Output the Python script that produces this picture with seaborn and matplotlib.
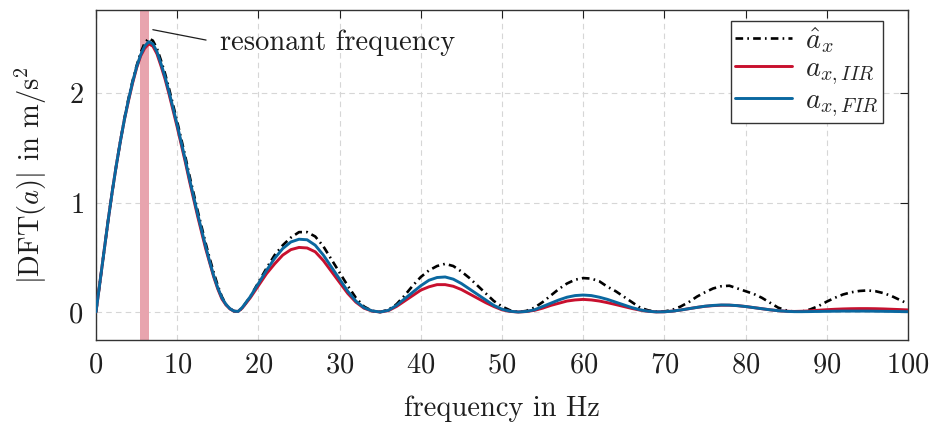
import numpy as np
import pandas as pd
import matplotlib
matplotlib.use("Agg")
import matplotlib.pyplot as plt
import seaborn as sns

# ---------------- data ----------------
freq_main = [0, 0.5, 1, 1.5, 2, 2.5, 3, 3.5, 4, 4.5, 5, 5.5, 6, 6.5, 7, 7.5, 8, 8.5,
             9, 9.5, 10, 10.5, 11, 11.5, 12, 12.5, 13, 13.5, 14, 14.5, 15, 15.5,
             16, 16.5, 17, 17.5, 18]
freq_rest = list(range(19, 101))

ahat_main = [0.00, 0.28, 0.56, 0.84, 1.10, 1.34, 1.56, 1.77, 1.95, 2.11, 2.25, 2.37,
             2.46, 2.50, 2.48, 2.41, 2.30, 2.18, 2.04, 1.89, 1.74, 1.58, 1.42, 1.25,
             1.09, 0.93, 0.78, 0.63, 0.49, 0.36, 0.24, 0.14, 0.07, 0.03, 0.008, 0.004, 0.035]
iir_main = [0.00, 0.28, 0.56, 0.84, 1.10, 1.34, 1.56, 1.76, 1.93, 2.09, 2.23, 2.34,
            2.41, 2.45, 2.43, 2.36, 2.25, 2.13, 1.99, 1.84, 1.69, 1.53, 1.37, 1.20,
            1.04, 0.88, 0.73, 0.58, 0.45, 0.32, 0.21, 0.12, 0.065, 0.028, 0.007, 0.005, 0.035]
fir_main = [0.00, 0.28, 0.56, 0.84, 1.10, 1.34, 1.56, 1.76, 1.94, 2.10, 2.24, 2.35,
            2.43, 2.47, 2.45, 2.38, 2.27, 2.15, 2.01, 1.86, 1.71, 1.55, 1.39, 1.22,
            1.06, 0.90, 0.75, 0.60, 0.46, 0.33, 0.22, 0.13, 0.07, 0.03, 0.008, 0.005, 0.04]

ahat_rest = [0.14, 0.27, 0.40, 0.52, 0.61, 0.68, 0.73, 0.73, 0.69, 0.60, 0.48, 0.36,  # 19-30
             0.24, 0.13, 0.05, 0.01, 0.00, 0.02, 0.07, 0.15, 0.24, 0.32, 0.38, 0.42,  # 31-42
             0.44, 0.42, 0.37, 0.31, 0.24, 0.17, 0.10, 0.05, 0.015, 0.00, 0.01, 0.04,  # 43-54
             0.09, 0.15, 0.21, 0.26, 0.295, 0.31, 0.305, 0.28, 0.23, 0.19, 0.14, 0.09,  # 55-66
             0.04, 0.015, 0.003, 0.005, 0.02, 0.05, 0.09, 0.14, 0.18, 0.215, 0.235, 0.24,  # 67-78
             0.215, 0.19, 0.165, 0.13, 0.085, 0.04, 0.015, 0.003, 0.005, 0.025, 0.055, 0.095,  # 79-90
             0.13, 0.16, 0.18, 0.192, 0.197, 0.19, 0.172, 0.145, 0.11, 0.075]  # 91-100
iir_rest = [0.13, 0.24, 0.35, 0.44, 0.52, 0.57, 0.59, 0.585, 0.55, 0.47, 0.37, 0.27,
            0.17, 0.09, 0.035, 0.008, 0.00, 0.012, 0.05, 0.10, 0.15, 0.20, 0.23, 0.25,
            0.25, 0.235, 0.205, 0.165, 0.125, 0.085, 0.05, 0.02, 0.005, 0.00, 0.004, 0.015,
            0.035, 0.06, 0.08, 0.10, 0.11, 0.115, 0.11, 0.10, 0.085, 0.068, 0.05, 0.032,
            0.017, 0.006, 0.001, 0.002, 0.008, 0.018, 0.03, 0.042, 0.052, 0.058, 0.062, 0.062,
            0.058, 0.05, 0.04, 0.03, 0.02, 0.012, 0.007, 0.005, 0.007, 0.011, 0.016, 0.021,
            0.025, 0.028, 0.03, 0.031, 0.031, 0.03, 0.028, 0.025, 0.022, 0.019]
fir_rest = [0.14, 0.26, 0.38, 0.49, 0.58, 0.64, 0.665, 0.66, 0.61, 0.52, 0.41, 0.30,
            0.19, 0.10, 0.04, 0.01, 0.00, 0.015, 0.06, 0.12, 0.18, 0.24, 0.29, 0.315,
            0.32, 0.30, 0.26, 0.21, 0.16, 0.11, 0.06, 0.025, 0.007, 0.00, 0.005, 0.02,
            0.05, 0.08, 0.11, 0.135, 0.15, 0.155, 0.15, 0.135, 0.115, 0.09, 0.065, 0.04,
            0.02, 0.007, 0.001, 0.002, 0.008, 0.018, 0.03, 0.042, 0.053, 0.06, 0.064, 0.063,
            0.058, 0.05, 0.04, 0.03, 0.02, 0.012, 0.006, 0.003, 0.003, 0.004, 0.005, 0.006,
            0.007, 0.008, 0.008, 0.008, 0.008, 0.007, 0.006, 0.005, 0.004, 0.003]

freq = freq_main + freq_rest
ahat = ahat_main + ahat_rest
iir = iir_main + iir_rest
fir = fir_main + fir_rest

resonant_freq = 6.0
band_halfwidth = 0.55

x_ticks = [0, 10, 20, 30, 40, 50, 60, 70, 80, 90, 100]
y_ticks = [0, 1, 2]

series_labels = [r"$\hat{a}_x$", r"$a_{x,IIR}$", r"$a_{x,FIR}$"]

# ---------------- style ----------------
sns.set_theme(style="white")
plt.rcParams.update({
    "font.family": ["serif"],
    "font.serif": ["cmr10", "DejaVu Serif"],
    "mathtext.fontset": "cm",
    "axes.formatter.use_mathtext": True,
    "axes.unicode_minus": False,
    "lines.scale_dashes": False,
})

FS = 20.5
RED = "#c8102e"
BLUE = "#0a68a0"
PINK = "#e8a4ae"
TXT = "#1e1e1e"

fig = plt.figure(figsize=(9.33, 4.23), dpi=100)
ax = fig.add_axes([96 / 933, (423 - 340) / 423, 812 / 933, 330 / 423])

df = pd.DataFrame({"freq": freq, "ahat": ahat, "iir": iir, "fir": fir})

ax.axvspan(resonant_freq - band_halfwidth, resonant_freq + band_halfwidth,
           color=PINK, lw=0, zorder=1)

sns.lineplot(data=df, x="freq", y="ahat", ax=ax, color="black", lw=1.9,
             linestyle=(0, (5.5, 3.0, 1.2, 3.0)), label=series_labels[0], zorder=2)
sns.lineplot(data=df, x="freq", y="iir", ax=ax, color=RED, lw=2.1,
             label=series_labels[1], zorder=3)
sns.lineplot(data=df, x="freq", y="fir", ax=ax, color=BLUE, lw=2.1,
             label=series_labels[2], zorder=4)

ax.set_xlim(0, 100)
ax.set_ylim(-0.256, 2.76)
ax.set_xticks(x_ticks)
ax.set_yticks(y_ticks)
ax.tick_params(axis="both", which="both", direction="in", length=6, width=0.8,
               top=True, right=True, labelsize=FS, colors=TXT, pad=9)
for s in ax.spines.values():
    s.set_color("#333333")
    s.set_linewidth(1.0)

ax.grid(True, color="#d6d6d6", linestyle=(0, (4, 3)), linewidth=0.8)
ax.set_axisbelow(True)

ax.set_xlabel("frequency in Hz", fontsize=FS, color=TXT, labelpad=12)
ax.set_ylabel(r"$|\mathrm{DFT}(a)|$ in m/s$^2$", fontsize=FS, color=TXT, labelpad=14)

ax.annotate("resonant frequency", xy=(7.0, 2.58), xytext=(15.3, 2.46),
            fontsize=FS, color=TXT, ha="left", va="center",
            arrowprops=dict(arrowstyle="-", color=TXT, lw=0.9,
                            relpos=(0, 0.5), shrinkA=8, shrinkB=0))

leg = ax.legend(loc="upper right", bbox_to_anchor=(0.969, 0.967), fontsize=FS,
                frameon=True, fancybox=False, framealpha=1, edgecolor="#333333",
                handlelength=2.0, handletextpad=0.45, borderpad=0.15, labelspacing=0.03,
                borderaxespad=0)
leg.get_frame().set_linewidth(1.0)

fig.savefig("out.png", dpi=100)
